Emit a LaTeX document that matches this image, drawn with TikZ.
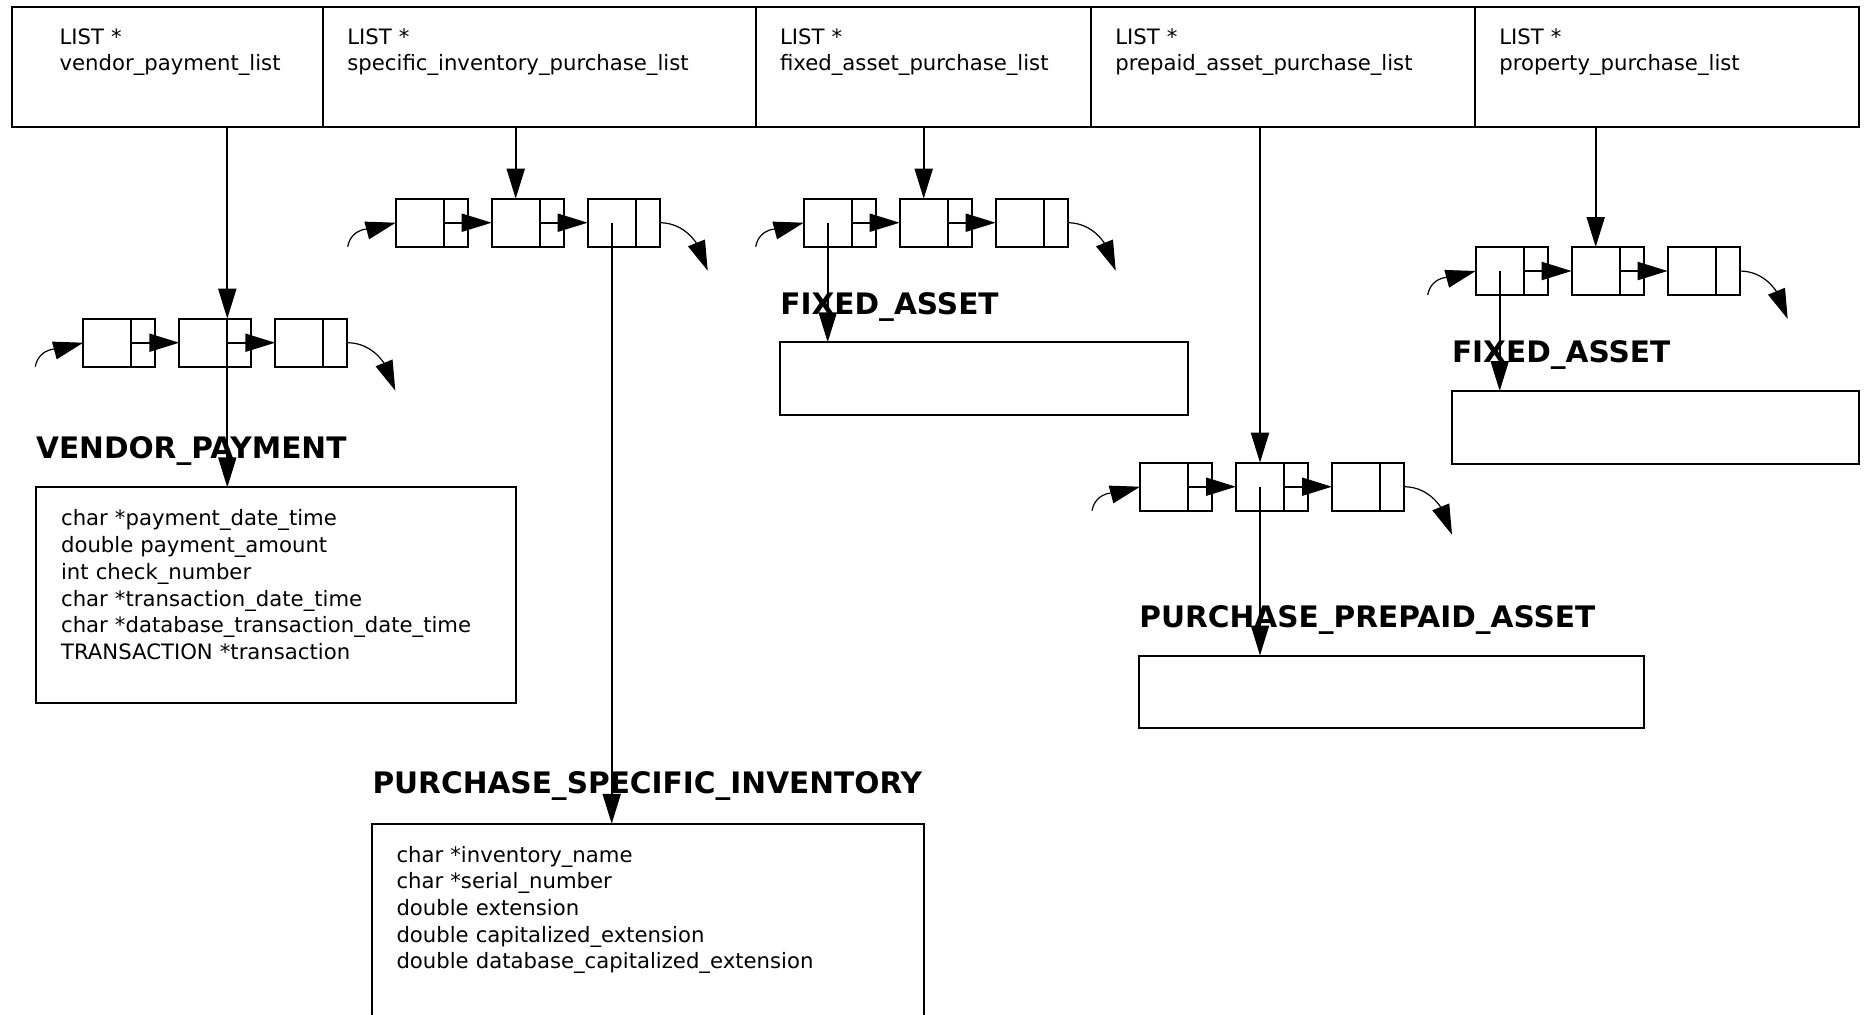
\documentclass[tikz,border=0pt]{standalone}
\usepackage{fontspec}
\setmainfont{DejaVu Sans}
\usetikzlibrary{positioning,arrows.meta}

\tikzset{
  ptr/.style={-{Triangle[length=15pt,width=9pt]}, line width=1pt},
  wrap/.style={-{Triangle[length=15pt,width=9pt]}, line width=0.6pt},
  dat/.style={draw, line width=1pt, outer sep=0pt, inner sep=0pt, minimum width=24pt, minimum height=24pt},
  nxt/.style={dat, minimum width=12pt},
  slot/.style={draw, line width=1pt, outer sep=0pt, minimum height=60pt, inner xsep=12pt, align=left, font=\fontsize{10.6}{13.35}\selectfont},
  rec/.style={draw, line width=1pt, outer sep=0pt, inner sep=0pt, anchor=north west},
  head/.style={inner sep=0pt, anchor=base west, font=\fontsize{14.8}{17}\selectfont\bfseries},
  fields/.style={inner sep=0pt, anchor=north west, align=left, text width=230pt, font=\fontsize{10.6}{13.35}\selectfont},
}

\begin{document}
\begin{tikzpicture}[x=0.5pt,y=-0.5pt]
  \useasboundingbox (0,0) rectangle (1864,1014);
  \clip (0,0) rectangle (1864,1014);

  \node[slot, anchor=north west, minimum width=155.9pt, inner xsep=24pt, text width=107.9pt] (vpayL) at (11.6,7) {LIST *\\vendor\_payment\_list\\\strut};
  \node[slot, right=0pt of vpayL, minimum width=216.35pt, text width=192.35pt] (sinvL) {LIST *\\specific\_inventory\_purchase\_list\\\strut};
  \node[slot, right=0pt of sinvL, minimum width=167.6pt, text width=143.6pt] (fixaL) {LIST *\\fixed\_asset\_purchase\_list\\\strut};
  \node[slot, right=0pt of fixaL, minimum width=192pt, text width=168pt] (prepL) {LIST *\\prepaid\_asset\_purchase\_list\\\strut};
  \node[slot, right=0pt of prepL, minimum width=192pt, text width=168pt] (propL) {LIST *\\property\_purchase\_list\\\strut};

  \foreach \lst/\x/\y in {vpay/83.3/342.7, sinv/395.7/222.7, fixa/803.7/222.7, prep/1140/486.7, prop/1475.7/271}{
    \node[dat, anchor=west] (\lst1) at (\x,\y) {};
    \node[nxt, right=0pt of \lst1] (\lst1n) {};
    \node[dat, right=12pt of \lst1n] (\lst2) {};
    \node[nxt, right=0pt of \lst2] (\lst2n) {};
    \node[dat, right=12pt of \lst2n] (\lst3) {};
    \node[nxt, right=0pt of \lst3] (\lst3n) {};
    \coordinate (\lst0) at ([xshift=-24pt]\lst1.south west);
    \coordinate (\lst4) at ([shift={(24pt,-12pt)}]\lst3n.south east);
    \path[ptr] (\lst1n.west) edge (\lst2.west) (\lst2n.west) edge (\lst3.west);
    \path[wrap] (\lst0) edge[out=80,in=195] (\lst1.west) (\lst3n.east) edge[out=0,in=112] (\lst4);
  }

  \node[rec, minimum width=240.15pt, minimum height=107.6pt] (vpayBox) at (35.7,487.4) {};
  \node[rec, minimum width=275.8pt, minimum height=107.6pt] (sinvBox) at (372.1,823.8) {};
  \node[rec, minimum width=203.85pt, minimum height=36.35pt] (fixaBox) at (780,342.3) {};
  \node[rec, minimum width=252.5pt, minimum height=36.35pt] (prepBox) at (1139,655.5) {};
  \node[rec, minimum width=203.85pt, minimum height=36.35pt] (propBox) at (1451.6,391) {};

  \node[head] (vpayHead) at ([yshift=14.25pt]vpayBox.north west) {VENDOR\_PAYMENT};
  \node[head] (sinvHead) at ([yshift=15pt]sinvBox.north west) {PURCHASE\_SPECIFIC\_INVENTORY};
  \node[head] (fixaHead) at ([yshift=13.8pt]fixaBox.north west) {FIXED\_ASSET};
  \node[head] (prepHead) at ([yshift=14pt]prepBox.north west) {PURCHASE\_PREPAID\_ASSET};
  \node[head] (propHead) at ([yshift=14.5pt]propBox.north west) {FIXED\_ASSET};

  \node[fields] (vpayFields) at ([shift={(12.5pt,-11pt)}]vpayBox.north west) {char *payment\_date\_time\\double payment\_amount\\int check\_number\\char *transaction\_date\_time\\char *database\_transaction\_date\_time\\TRANSACTION *transaction};
  \node[fields] (sinvFields) at ([shift={(12pt,-10.9pt)}]sinvBox.north west) {char *inventory\_name\\char *serial\_number\\double extension\\double capitalized\_extension\\double database\_capitalized\_extension};

  \path[ptr]
  (vpayL.south -| vpay2.north east) edge (vpay2.north east)
  (sinvL.south -| sinv2.north) edge (sinv2.north)
  (fixaL.south -| fixa2.north) edge (fixa2.north)
  (prepL.south -| prep2.north) edge (prep2.north)
  (propL.south -| prop2.north) edge (prop2.north)
  (vpay2.east) edge (vpay2.east |- vpayBox.north)
  (sinv3.center) edge (sinv3.center |- sinvBox.north)
  (fixa1.center) edge (fixa1.center |- fixaBox.north)
  (prep2.center) edge (prep2.center |- prepBox.north)
  (prop1.center) edge (prop1.center |- propBox.north)
  ;
\end{tikzpicture}
\end{document}
